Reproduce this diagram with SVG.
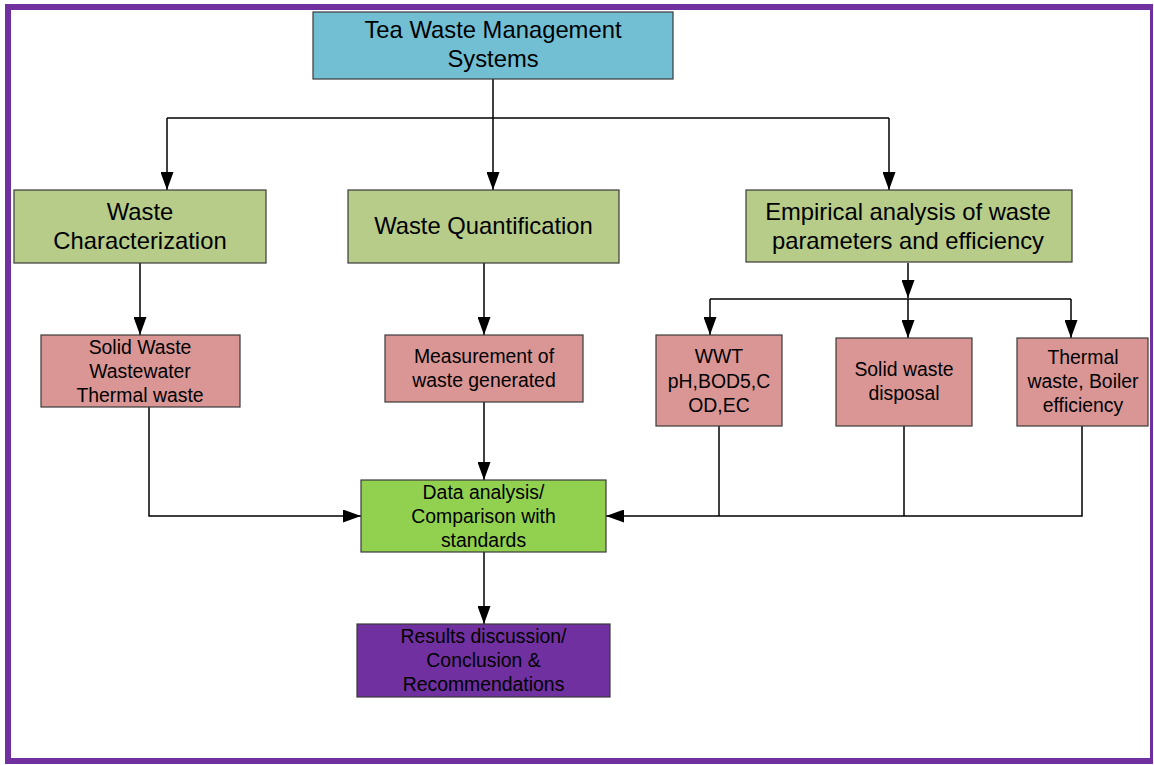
<svg xmlns="http://www.w3.org/2000/svg" width="1154" height="765" viewBox="0 0 1154 765">
<defs>
<marker id="ah" markerUnits="userSpaceOnUse" markerWidth="18" markerHeight="13" refX="18" refY="6.5" orient="auto">
<path d="M0,0 L18,6.5 L0,13 z" fill="#000"/>
</marker>
<style>
.box{stroke:#3a3a3a;stroke-width:1.2}
.blue{fill:#72BFD4}
.olive{fill:#B7CC89}
.pink{fill:#DA9694}
.lime{fill:#92D050}
.purple{fill:#7030A0}
.frame{fill:#7030A0}
.big{font-family:"Liberation Sans",Arial,sans-serif;font-size:23.8px;fill:#000;text-anchor:middle}
.sm{font-family:"Liberation Sans",Arial,sans-serif;font-size:19.4px;fill:#000;text-anchor:middle}
.ln{fill:none;stroke:#000;stroke-width:1.5}
.ar{fill:none;stroke:#000;stroke-width:1.5;marker-end:url(#ah)}
</style>
</defs>
<rect width="1154" height="765" fill="#fff"/>
<g id="frame">
<rect class="frame" x="5" y="4" width="1148" height="6"/>
<rect class="frame" x="5" y="4" width="6" height="760"/>
<rect class="frame" x="1150" y="4" width="3" height="760"/>
<rect class="frame" x="5" y="758" width="1148" height="6"/>
</g>
<g id="connectors">
<path class="ar" d="M493,79 V190"/>
<path class="ln" d="M167,118 H889"/>
<path class="ar" d="M167,118 V190"/>
<path class="ar" d="M889,118 V190"/>
<path class="ar" d="M140,263 V335"/>
<path class="ar" d="M484,263 V335"/>
<path class="ar" d="M908,263 V298"/>
<path class="ln" d="M710,299 H1071"/>
<path class="ar" d="M710,299 V335"/>
<path class="ar" d="M908,299 V338"/>
<path class="ar" d="M1071,299 V338"/>
<path class="ar" d="M149,407 V516 H361"/>
<path class="ar" d="M484,402 V480"/>
<path class="ln" d="M719,426 V516"/>
<path class="ln" d="M904,426 V516"/>
<path class="ar" d="M1082,426 V516 H606"/>
<path class="ar" d="M484,552 V624"/>
</g>
<g id="n-title">
<rect class="box blue" x="313" y="12" width="360" height="67"/>
<text class="big" x="493" y="38">Tea Waste Management</text>
<text class="big" x="493" y="67">Systems</text>
</g>
<g id="n-char">
<rect class="box olive" x="14" y="190" width="252" height="73"/>
<text class="big" x="140" y="220">Waste</text>
<text class="big" x="140" y="249">Characterization</text>
</g>
<g id="n-quant">
<rect class="box olive" x="348" y="190" width="271" height="73"/>
<text class="big" x="483.5" y="234">Waste Quantification</text>
</g>
<g id="n-emp">
<rect class="box olive" x="746" y="190" width="326" height="72"/>
<text class="big" x="908" y="220">Empirical analysis of waste</text>
<text class="big" x="908" y="249">parameters and efficiency</text>
</g>
<g id="n-types">
<rect class="box pink" x="41" y="335" width="199" height="72"/>
<text class="sm" x="140" y="354">Solid Waste</text>
<text class="sm" x="140" y="378">Wastewater</text>
<text class="sm" x="140" y="402">Thermal waste</text>
</g>
<g id="n-measure">
<rect class="box pink" x="385" y="335" width="198" height="67"/>
<text class="sm" x="484" y="363">Measurement of</text>
<text class="sm" x="484" y="387">waste generated</text>
</g>
<g id="n-wwt">
<rect class="box pink" x="656" y="335" width="126" height="91"/>
<text class="sm" x="719" y="363">WWT</text>
<text class="sm" x="719" y="388">pH,BOD5,C</text>
<text class="sm" x="719" y="412">OD,EC</text>
</g>
<g id="n-solid">
<rect class="box pink" x="836" y="338" width="136" height="88"/>
<text class="sm" x="904" y="376">Solid waste</text>
<text class="sm" x="904" y="400">disposal</text>
</g>
<g id="n-thermal">
<rect class="box pink" x="1017" y="338" width="131" height="88"/>
<text class="sm" x="1083" y="364">Thermal</text>
<text class="sm" x="1083" y="388">waste, Boiler</text>
<text class="sm" x="1083" y="412">efficiency</text>
</g>
<g id="n-data">
<rect class="box lime" x="361" y="480" width="245" height="72"/>
<text class="sm" x="483.5" y="499">Data analysis/</text>
<text class="sm" x="483.5" y="523">Comparison with</text>
<text class="sm" x="483.5" y="547">standards</text>
</g>
<g id="n-results">
<rect class="box purple" x="357" y="624" width="253" height="73"/>
<text class="sm" x="483.5" y="643">Results discussion/</text>
<text class="sm" x="483.5" y="667">Conclusion &amp;</text>
<text class="sm" x="483.5" y="691">Recommendations</text>
</g>
</svg>
